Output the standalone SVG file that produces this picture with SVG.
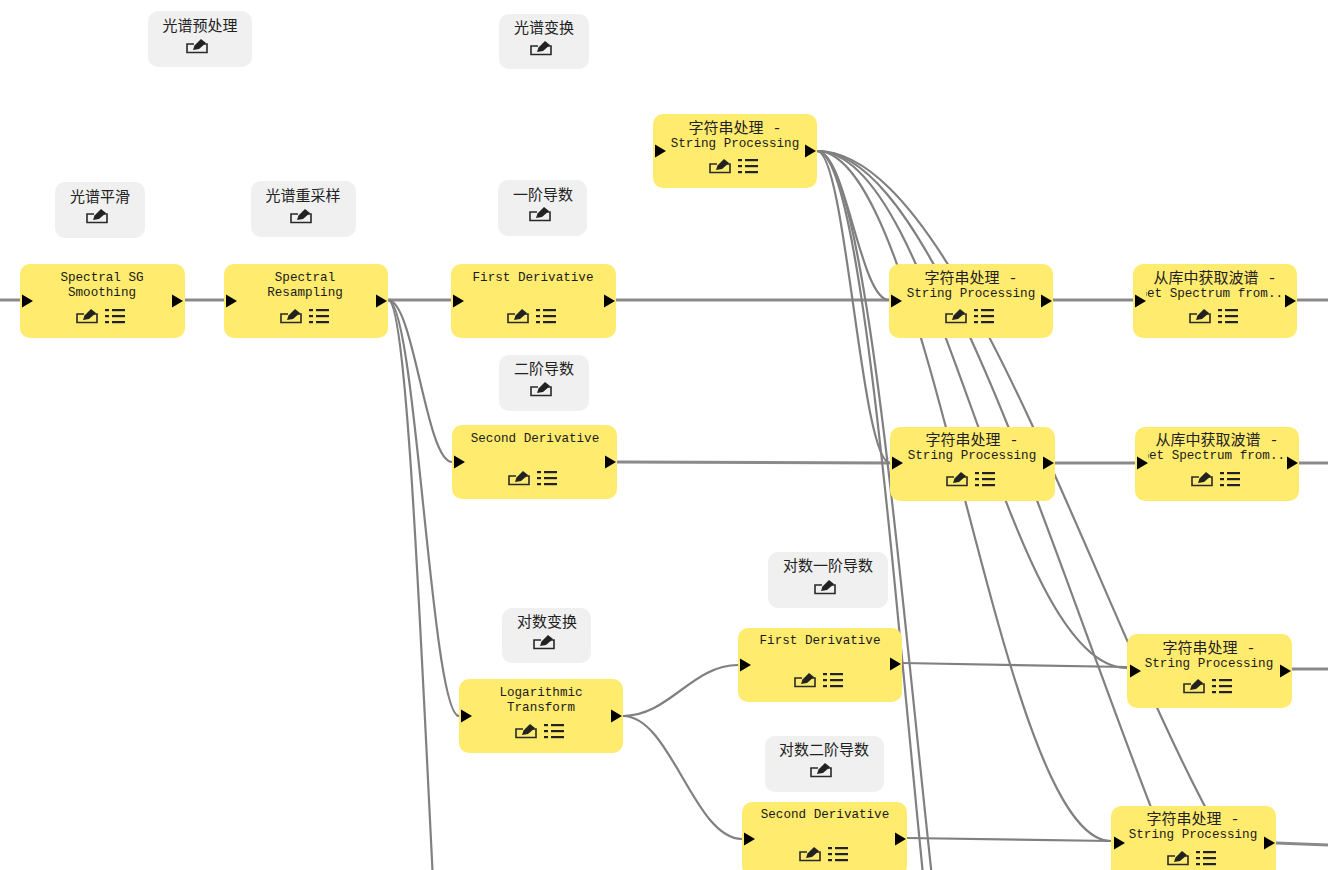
<svg xmlns="http://www.w3.org/2000/svg" width="1328" height="870" viewBox="0 0 1328 870">
<style>
.n{fill:#ffeb6e}
.g{fill:#f0f0f0}
.c{fill:none;stroke:#808080;stroke-width:2.2}
.t{fill:none;stroke:#8a8a8a;stroke-width:3}
.zh{font-family:"Noto Sans CJK SC","Noto Sans",sans-serif;font-size:15px;fill:#222;text-anchor:middle}
.en{font-family:"Liberation Mono",monospace;font-size:12.6px;fill:#1a1a1a;text-anchor:middle}
.d{font-family:"Liberation Mono",monospace;font-size:15px}
.ic{fill:none;stroke:#2a2a2a;stroke-width:1.6}
.k{fill:#222}
</style>
<defs>
<g id="edit"><path class="ic" d="M-3 -2H-10V6.500H10V-2H7"/><path class="k" d="M-4 4L-2.500 -0.500L4 -7L9 -3L2 3Z"/></g>
<g id="list"><rect class="k" x="-10" y="-7" width="4" height="2.200"/><rect class="k" x="-3" y="-7" width="13" height="2.200"/><rect class="k" x="-10" y="-1" width="4" height="2.200"/><rect class="k" x="-3" y="-1" width="13" height="2.200"/><rect class="k" x="-10" y="5" width="4" height="2.200"/><rect class="k" x="-3" y="5" width="13" height="2.200"/></g>
<path id="tri" d="M0 -6.500L11 0L0 6.500Z" fill="#000"/>
<clipPath id="cA"><rect x="1146" y="264" width="137" height="74"/></clipPath>
<clipPath id="cB"><rect x="1148" y="427" width="137" height="74"/></clipPath>
</defs>
<rect width="1328" height="870" fill="#fff"/>
<g id="connectors">
<path class="t" d="M0 300H20"/>
<path class="t" d="M185 300H224"/>
<path class="t" d="M388 300H451"/>
<path class="c" d="M388 300C414 300 426 462 452 462"/>
<path class="c" d="M388 300C416 300 431 716 459 716"/>
<path class="c" d="M388 300C421 300 437 1300 470 1300"/>
<path class="t" d="M616 300H889"/>
<path class="t" d="M617 462L890 463"/>
<path class="c" d="M623 716C669 716 692 665 738 665"/>
<path class="c" d="M623 716C671 716 694 839 742 839"/>
<path class="c" d="M902 663L1127 667"/>
<path class="c" d="M907 838L1111 841"/>
<path class="c" d="M817 151C846 151 860 300 889 300"/>
<path class="c" d="M817 151C846 151 861 463 890 463"/>
<path class="c" d="M817 151C931 151 997 841 1111 841"/>
<path class="c" d="M817 151C941 151 1003 668 1127 668"/>
<path class="c" d="M817 151C1000 151 1170 1100 1340 1100"/>
<path class="c" d="M817 151C1004 151 1180 950 1335 950"/>
<path class="c" d="M817 151C890 151 927 1300 1000 1300"/>
<path class="c" d="M817 151C896 151 936 1300 1015 1300"/>
<path class="t" d="M1053 300H1133"/>
<path class="t" d="M1055 463H1135"/>
<path class="t" d="M1297 300H1328"/>
<path class="t" d="M1299 463H1328"/>
<path class="t" d="M1292 669H1328"/>
<path class="t" d="M1276 843L1328 845"/>
</g>
<g id="n-smooth"><rect class="n" x="20" y="264" width="165" height="74" rx="10"/><text class="en" x="102" y="281">Spectral SG</text><text class="en" x="102" y="296">Smoothing</text><use href="#tri" x="22" y="301"/><use href="#tri" x="172" y="301"/><use href="#edit" x="87" y="316"/><use href="#list" x="115" y="316"/></g>
<g id="n-resample"><rect class="n" x="224" y="264" width="164" height="74" rx="10"/><text class="en" x="305" y="281">Spectral</text><text class="en" x="305" y="296">Resampling</text><use href="#tri" x="226" y="301"/><use href="#tri" x="376" y="301"/><use href="#edit" x="291" y="316"/><use href="#list" x="319" y="316"/></g>
<g id="n-first"><rect class="n" x="451" y="264" width="165" height="74" rx="10"/><text class="en" x="533" y="281">First Derivative</text><use href="#tri" x="453" y="301"/><use href="#tri" x="604" y="301"/><use href="#edit" x="518" y="316"/><use href="#list" x="546" y="316"/></g>
<g id="n-second"><rect class="n" x="452" y="425" width="165" height="74" rx="10"/><text class="en" x="535" y="442">Second Derivative</text><use href="#tri" x="454" y="462"/><use href="#tri" x="605" y="462"/><use href="#edit" x="519" y="478"/><use href="#list" x="547" y="478"/></g>
<g id="n-log"><rect class="n" x="459" y="679" width="164" height="74" rx="10"/><text class="en" x="541" y="696">Logarithmic</text><text class="en" x="541" y="711">Transform</text><use href="#tri" x="461" y="716"/><use href="#tri" x="611" y="716"/><use href="#edit" x="526" y="731"/><use href="#list" x="554" y="731"/></g>
<g id="n-logfirst"><rect class="n" x="738" y="628" width="164" height="74" rx="10"/><text class="en" x="820" y="644">First Derivative</text><use href="#tri" x="740" y="665"/><use href="#tri" x="890" y="664"/><use href="#edit" x="805" y="680"/><use href="#list" x="833" y="680"/></g>
<g id="n-logsecond"><rect class="n" x="742" y="802" width="165" height="74" rx="10"/><text class="en" x="825" y="818">Second Derivative</text><use href="#tri" x="744" y="839"/><use href="#tri" x="895" y="839"/><use href="#edit" x="810" y="854"/><use href="#list" x="838" y="854"/></g>
<g id="n-str0"><rect class="n" x="653" y="114" width="164" height="74" rx="10"/><text class="zh" x="735" y="133">字符串处理<tspan class="d"> -</tspan></text><text class="en" x="735" y="147">String Processing</text><use href="#tri" x="655" y="151"/><use href="#tri" x="805" y="151"/><use href="#edit" x="720" y="166"/><use href="#list" x="748" y="166"/></g>
<g id="n-strA"><rect class="n" x="889" y="264" width="164" height="74" rx="10"/><text class="zh" x="971" y="283">字符串处理<tspan class="d"> -</tspan></text><text class="en" x="971" y="297">String Processing</text><use href="#tri" x="891" y="301"/><use href="#tri" x="1041" y="301"/><use href="#edit" x="956" y="316"/><use href="#list" x="984" y="316"/></g>
<g id="n-strB"><rect class="n" x="890" y="427" width="165" height="74" rx="10"/><text class="zh" x="972" y="445">字符串处理<tspan class="d"> -</tspan></text><text class="en" x="972" y="459">String Processing</text><use href="#tri" x="892" y="463"/><use href="#tri" x="1043" y="463"/><use href="#edit" x="957" y="479"/><use href="#list" x="985" y="479"/></g>
<g id="n-getA"><rect class="n" x="1133" y="264" width="164" height="74" rx="10"/><text class="zh" x="1215" y="283">从库中获取波谱<tspan class="d"> -</tspan></text><text class="en" clip-path="url(#cA)" x="1215" y="297">Get Spectrum from...</text><use href="#tri" x="1135" y="301"/><use href="#tri" x="1285" y="301"/><use href="#edit" x="1200" y="316"/><use href="#list" x="1228" y="316"/></g>
<g id="n-getB"><rect class="n" x="1135" y="427" width="164" height="74" rx="10"/><text class="zh" x="1217" y="445">从库中获取波谱<tspan class="d"> -</tspan></text><text class="en" clip-path="url(#cB)" x="1217" y="459">Get Spectrum from...</text><use href="#tri" x="1137" y="463"/><use href="#tri" x="1287" y="463"/><use href="#edit" x="1202" y="479"/><use href="#list" x="1230" y="479"/></g>
<g id="n-strC"><rect class="n" x="1127" y="634" width="165" height="74" rx="10"/><text class="zh" x="1209" y="653">字符串处理<tspan class="d"> -</tspan></text><text class="en" x="1209" y="667">String Processing</text><use href="#tri" x="1130" y="671"/><use href="#tri" x="1280" y="671"/><use href="#edit" x="1194" y="686"/><use href="#list" x="1222" y="686"/></g>
<g id="n-strD"><rect class="n" x="1111" y="806" width="165" height="74" rx="10"/><text class="zh" x="1193" y="824">字符串处理<tspan class="d"> -</tspan></text><text class="en" x="1193" y="838">String Processing</text><use href="#tri" x="1114" y="843"/><use href="#tri" x="1264" y="843"/><use href="#edit" x="1178" y="858"/><use href="#list" x="1206" y="858"/></g>
<g id="note-pre"><rect class="g" x="148" y="11" width="104" height="56" rx="10"/><text class="zh" x="200" y="31">光谱预处理</text><use href="#edit" x="197" y="46"/></g>
<g id="note-trans"><rect class="g" x="499" y="14" width="90" height="55" rx="10"/><text class="zh" x="544" y="33">光谱变换</text><use href="#edit" x="541" y="48"/></g>
<g id="note-smooth"><rect class="g" x="55" y="182" width="90" height="56" rx="10"/><text class="zh" x="100" y="202">光谱平滑</text><use href="#edit" x="97" y="216"/></g>
<g id="note-resample"><rect class="g" x="251" y="181" width="105" height="56" rx="10"/><text class="zh" x="303" y="201">光谱重采样</text><use href="#edit" x="301" y="216"/></g>
<g id="note-first"><rect class="g" x="498" y="180" width="89" height="56" rx="10"/><text class="zh" x="543" y="200">一阶导数</text><use href="#edit" x="540" y="214"/></g>
<g id="note-second"><rect class="g" x="499" y="355" width="90" height="56" rx="10"/><text class="zh" x="544" y="374">二阶导数</text><use href="#edit" x="541" y="389"/></g>
<g id="note-log"><rect class="g" x="502" y="608" width="89" height="55" rx="10"/><text class="zh" x="547" y="627">对数变换</text><use href="#edit" x="544" y="642"/></g>
<g id="note-logfirst"><rect class="g" x="768" y="552" width="120" height="56" rx="10"/><text class="zh" x="828" y="571">对数一阶导数</text><use href="#edit" x="825" y="587"/></g>
<g id="note-logsecond"><rect class="g" x="765" y="736" width="119" height="56" rx="10"/><text class="zh" x="824" y="755">对数二阶导数</text><use href="#edit" x="821" y="770"/></g>
</svg>
